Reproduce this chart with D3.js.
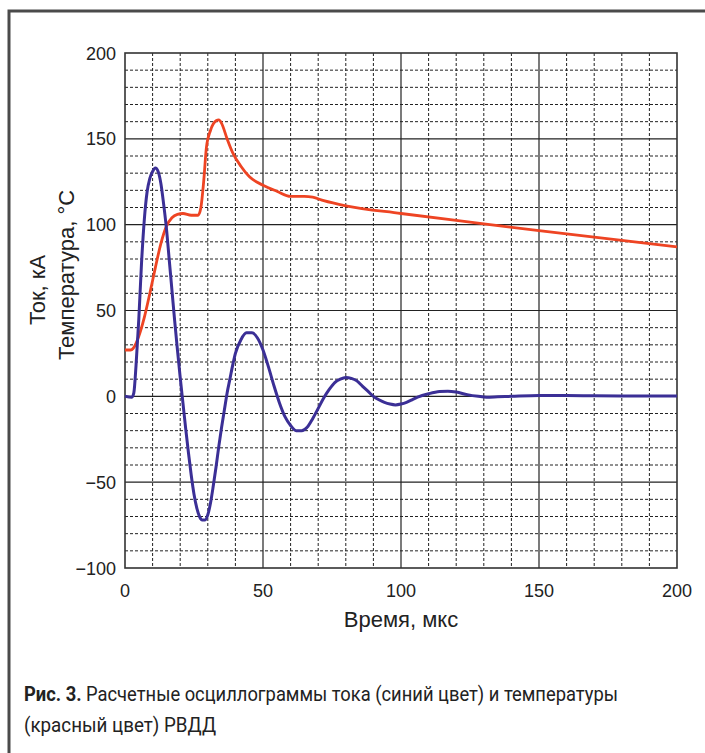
<!DOCTYPE html>
<html lang="ru">
<head>
<meta charset="UTF-8">
<title>Рис. 3</title>
<script src="https://d3js.org/d3.v7.min.js"></script>
<style>
  * { margin: 0; padding: 0; }
  body { background: #fff; width: 705px; height: 753px; overflow: hidden; }
  svg { display: block; }
  .tick-label { font-family: "Liberation Sans", Arial, sans-serif; font-size: 18px; fill: #222; }
  .axis-title { font-family: "Liberation Sans", Arial, sans-serif; font-size: 22px; fill: #222; }
  .caption { font-family: "Roboto", "Liberation Sans", sans-serif; font-size: 20px; fill: #222; }
</style>
</head>
<body>
<svg id="chart" width="705" height="753"></svg>
<script>
// ticks
const xTicks = [0, 50, 100, 150, 200];
const yTicks = [-100, -50, 0, 50, 100, 150, 200];

// current, kA (blue) — time in µs
const currentT = [0, 2.5, 3.2, 4, 5, 6, 7, 8, 9, 10, 11, 12, 13, 14, 15, 16, 17, 18, 19, 20,
  21, 22, 23, 24, 25, 26, 27, 28, 29, 30, 31, 32, 33, 34, 35, 36, 37, 38, 39, 40,
  42, 44, 46, 48, 50, 52, 54, 56, 58, 60, 62, 64, 66, 68, 70, 72, 74, 76, 78, 80,
  82, 84, 86, 88, 90, 92, 94, 96, 98, 100, 102, 104, 106, 110, 114, 117, 120, 124, 128, 131,
  135, 140, 150, 160, 170, 180, 200];
const currentV = [0, -0.5, 2, 18, 45, 78, 103, 119, 127, 131, 133, 131, 124, 112, 98, 80, 62, 44, 27, 11,
  -4, -19, -33, -46, -57, -65, -70, -72, -72, -69, -62, -52, -41, -29, -18, -8, 2, 10, 18, 25,
  33, 37, 37, 34, 27, 17, 6, -4, -12, -17, -20, -20, -18, -13, -7, -1, 4, 8, 10, 11,
  10.5, 9, 6, 3, 0, -2, -3.5, -4.5, -5, -4.5, -3.5, -2, -0.5, 1.5, 2.8, 3, 2.5, 1, 0, -0.5,
  -0.3, 0, 0.5, 0.5, 0.3, 0.2, 0.2];

// temperature, °C (red)
const tempT = [0, 2, 3, 5, 7, 9, 11, 13, 15, 17, 19, 21, 24, 26.5, 27.5, 28.5, 29.5, 31, 33, 34,
  35, 37, 39, 42, 45, 50, 55, 60, 65, 68, 72, 80, 100, 130, 150, 200];
const tempV = [27, 27, 28, 35, 46, 60, 75, 89, 99, 104, 106, 106.5, 105.5, 105.5, 110, 125, 145, 155, 160.5, 161,
  159, 150, 142, 134, 128, 123, 119.5, 116.5, 116.5, 116, 114, 111, 106.5, 100.5, 96.5, 87];

const svg = d3.select('#chart');

// outer frame (open at right/bottom)
svg.append('path')
  .attr('d', 'M9,753 V11 H705')
  .attr('fill', 'none').attr('stroke', '#4a4a4a').attr('stroke-width', 3);

const plotL = 125, plotR = 677, plotT = 53, plotB = 568;
const x = d3.scaleLinear().domain([0, 200]).range([plotL, plotR]);
const y = d3.scaleLinear().domain([-100, 200]).range([plotB, plotT]);

const grid = svg.append('g');
// minor dashed grid
d3.range(10, 200, 10).filter(v => v % 50 !== 0).forEach(v => {
  grid.append('line').attr('x1', x(v)).attr('x2', x(v)).attr('y1', plotT).attr('y2', plotB)
    .attr('stroke', '#222').attr('stroke-width', 1).attr('stroke-dasharray', '3,2');
});
d3.range(-90, 200, 10).filter(v => v % 50 !== 0).forEach(v => {
  grid.append('line').attr('x1', plotL).attr('x2', plotR).attr('y1', y(v)).attr('y2', y(v))
    .attr('stroke', '#222').attr('stroke-width', 1).attr('stroke-dasharray', '3,2');
});
// major solid grid
xTicks.slice(1, -1).forEach(v => {
  grid.append('line').attr('x1', x(v)).attr('x2', x(v)).attr('y1', plotT).attr('y2', plotB)
    .attr('stroke', '#222').attr('stroke-width', 1.2);
});
yTicks.slice(1, -1).forEach(v => {
  grid.append('line').attr('x1', plotL).attr('x2', plotR).attr('y1', y(v)).attr('y2', y(v))
    .attr('stroke', '#222').attr('stroke-width', 1.2);
});
grid.append('rect').attr('x', plotL).attr('y', plotT).attr('width', plotR - plotL).attr('height', plotB - plotT)
  .attr('fill', 'none').attr('stroke', '#333').attr('stroke-width', 1.6);

// tick labels
svg.append('g').selectAll('text').data(xTicks).join('text')
  .attr('class', 'tick-label').attr('x', d => x(d)).attr('y', plotB + 29)
  .attr('text-anchor', 'middle').text(d => d);
svg.append('g').selectAll('text').data(yTicks).join('text')
  .attr('class', 'tick-label').attr('x', plotL - 9).attr('y', d => y(d) + 6.5)
  .attr('text-anchor', 'end').text(d => d < 0 ? '\u2212' + Math.abs(d) : d);

// axis titles
svg.append('text').attr('class', 'axis-title').attr('x', (plotL + plotR) / 2).attr('y', plotB + 59)
  .attr('text-anchor', 'middle').text('Время, мкс');
svg.append('text').attr('class', 'axis-title')
  .attr('transform', 'translate(45,290) rotate(-90)').attr('text-anchor', 'middle').text('Ток, кА');
svg.append('text').attr('class', 'axis-title')
  .attr('transform', 'translate(74,275) rotate(-90)').attr('text-anchor', 'middle').text('Температура, °C');

// series
const line = d3.line().x(d => x(d[0])).y(d => y(d[1])).curve(d3.curveMonotoneX);
svg.append('path').datum(d3.zip(tempT, tempV)).attr('d', line)
  .attr('fill', 'none').attr('stroke', '#ee4423').attr('stroke-width', 2.8);
svg.append('path').datum(d3.zip(currentT, currentV)).attr('d', line)
  .attr('fill', 'none').attr('stroke', '#3b2f96').attr('stroke-width', 3);

// caption (condensed face in the original; squeeze to its measured width)
const cap = svg.append('text').attr('class', 'caption').attr('x', 24).attr('y', 701)
  .attr('textLength', 594).attr('lengthAdjust', 'spacingAndGlyphs');
cap.append('tspan').attr('font-weight', 'bold').text('Рис. 3.');
cap.append('tspan').text(' Расчетные осциллограммы тока (синий цвет) и температуры');
svg.append('text').attr('class', 'caption').attr('x', 24).attr('y', 732)
  .attr('textLength', 192).attr('lengthAdjust', 'spacingAndGlyphs')
  .text('(красный цвет) РВДД');
</script>
</body>
</html>
